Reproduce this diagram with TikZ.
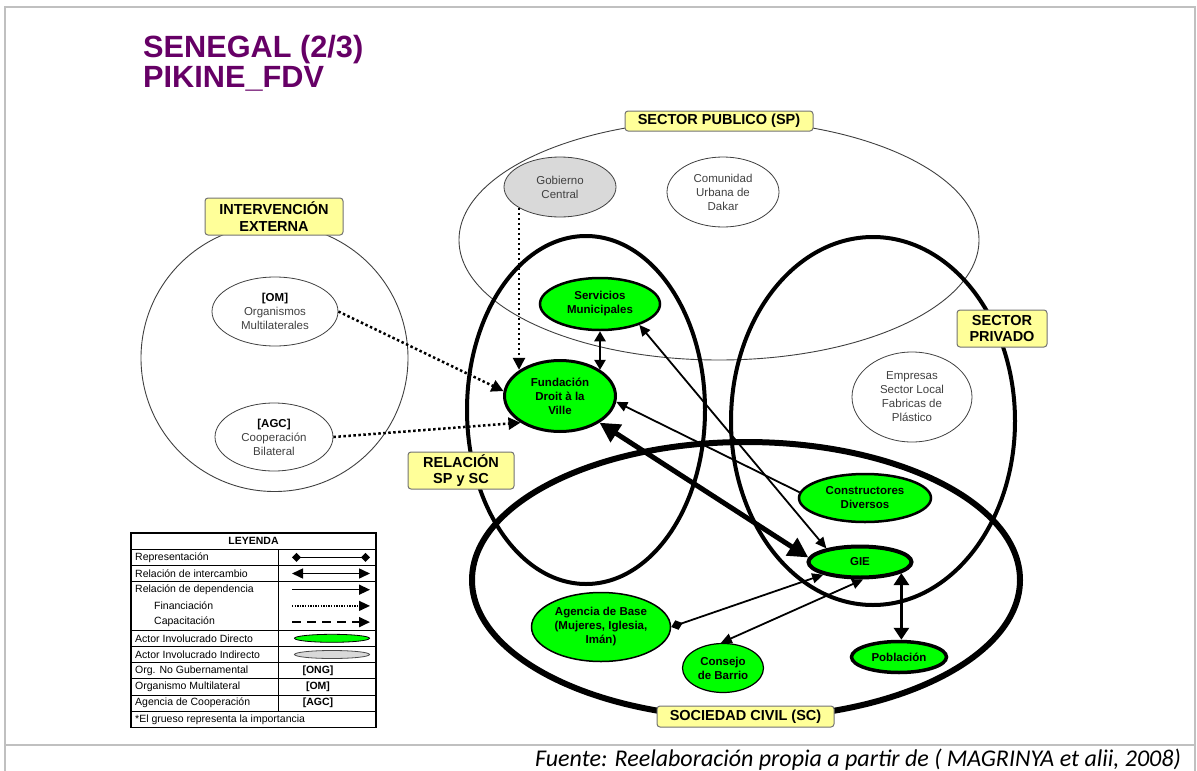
\documentclass[tikz,border=0pt]{standalone}
\usepackage{fontspec}
\setmainfont{Liberation Sans}
\newfontfamily\footfont{Carlito}
\usetikzlibrary{arrows.meta,shapes.geometric}
\pgfdeclarelayer{bg}
\pgfsetlayers{bg,main}
\definecolor{vgreen}{HTML}{00FF00}
\definecolor{lgray}{HTML}{D9D9D9}
\definecolor{ybox}{HTML}{FFFF99}
\definecolor{ttl}{HTML}{660066}
\definecolor{framegray}{HTML}{C0C0C0}
\definecolor{txtgray}{HTML}{404040}
\newcommand\fsz[2]{\fontsize{#1}{#2}\selectfont}
\begin{document}
\begin{tikzpicture}[x=1pt,y=-1pt,
 actor/.style={ellipse, draw=black, fill=vgreen, inner sep=0pt, align=center, font=\fsz{11.5}{14}\bfseries},
 indirect/.style={ellipse, draw=txtgray, line width=0.8pt, inner sep=0pt, align=center, text=txtgray, font=\fsz{11.5}{14}},
 zone/.style={rounded corners=3pt, draw=black!55, line width=1pt, fill=ybox, inner sep=0pt, align=center, font=\fsz{14.5}{16.5}\bfseries},
 fin/.style={line width=2.5pt, dash pattern=on 2.5pt off 2.5pt, -{Triangle[length=12pt,width=12pt]}},
 xch/.style={line width=2.5pt, {Triangle[length=10pt,width=11pt]}-{Triangle[length=10pt,width=11pt]}},
 thinx/.style={line width=1.8pt, {Triangle[length=11pt,width=10pt]}-{Triangle[length=11pt,width=10pt]}},
 dep/.style={line width=1.8pt, -{Triangle[length=11pt,width=10pt]}},
 bigx/.style={line width=5pt, {Triangle[length=20pt,width=20pt]}-{Triangle[length=20pt,width=20pt]}},
 medx/.style={line width=3.5pt, {Triangle[length=12pt,width=15pt]}-{Triangle[length=12pt,width=15pt]}},
 rep/.style={line width=1.8pt, {Diamond[length=12pt,width=10pt]}-{Triangle[length=11pt,width=10pt]}},
 leg/.style={inner sep=0pt, font=\fsz{10.5}{12}},
 legb/.style={inner sep=0pt, font=\fsz{10.5}{12}\bfseries}
]
\useasboundingbox (0,0) rectangle (1197,771);
% frame
\draw[framegray, line width=2pt] (5,771) -- (5,7) -- (1195,7) -- (1195,771);
\draw[framegray, line width=2pt] (5,745) -- (1195,745);
% title
\node[anchor=base west, inner sep=0pt, text=ttl, font=\fsz{30.7}{30}\bfseries] (t1) at (143,57) {SENEGAL (2/3)};
\node[anchor=base west, inner sep=0pt, text=ttl, font=\fsz{30.7}{30}\bfseries] (t2) at (143,87) {PIKINE\_FDV};
% regions
\begin{pgfonlayer}{bg}
\draw[line width=0.9pt, draw=txtgray] (719,240) ellipse [x radius=260, y radius=120];
\draw[line width=0.9pt, draw=txtgray] (274.5,358) circle [radius=133.5];
\draw[line width=4pt] (586,410) ellipse [x radius=119, y radius=174];
\draw[line width=4pt] (873,421) ellipse [x radius=142, y radius=184];
\draw[line width=6pt] (746,580) ellipse [x radius=274, y radius=138];
\end{pgfonlayer}
% indirect actors
\node[indirect, fill=lgray, minimum width=112pt, minimum height=60pt] (gob) at (560,187) {Gobierno\\Central};
\node[indirect, minimum width=112pt, minimum height=70pt] (cud) at (723,192) {Comunidad\\Urbana de\\Dakar};
\node[indirect, minimum width=126pt, minimum height=69pt] (om) at (275,311.5) {\textcolor{black}{\textbf{[OM]}}\\Organismos\\Multilaterales};
\node[indirect, minimum width=118pt, minimum height=68pt] (agc) at (274,437) {\textcolor{black}{\textbf{[AGC]}}\\Cooperación\\Bilateral};
\node[indirect, minimum width=120pt, minimum height=90pt] (emp) at (912,397) {Empresas\\Sector Local\\Fabricas de\\Plástico};
% direct actors
\node[actor, minimum width=120pt, minimum height=52pt, line width=2.5pt] (serv) at (600,304) {Servicios\\Municipales};
\node[actor, minimum width=111pt, minimum height=71pt, line width=3pt] (fdv) at (560,396) {Fundación\\Droit à la\\Ville};
\node[actor, minimum width=132pt, minimum height=48pt, line width=2.5pt] (cons) at (865,498) {Constructores\\Diversos};
\node[actor, minimum width=103pt, minimum height=31pt, line width=4pt] (gie) at (860,562) {GIE};
\node[actor, minimum width=139pt, minimum height=69pt, line width=1.5pt] (agb) at (601,627) {Agencia de Base\\(Mujeres, Iglesia,\\Imán)};
\node[actor, minimum width=81pt, minimum height=49pt, line width=1.2pt] (cdb) at (723,668) {Consejo\\de Barrio};
\node[actor, minimum width=95pt, minimum height=31pt, line width=3.5pt] (pob) at (899,657) {Población};
% zone labels
\node[zone, minimum width=188pt, minimum height=20pt] (zsp) at (719,121) {SECTOR PUBLICO (SP)};
\node[zone, minimum width=138pt, minimum height=37pt] (zie) at (274,216.5) {INTERVENCIÓN\\EXTERNA};
\node[zone, minimum width=90pt, minimum height=37pt] (zpr) at (1002,328.5) {SECTOR\\PRIVADO};
\node[zone, minimum width=106pt, minimum height=37pt] (zrel) at (461,470.5) {RELACIÓN\\SP y SC};
\node[zone, minimum width=177pt, minimum height=21pt] (zsc) at (745.5,716.5) {SOCIEDAD CIVIL (SC)};
% connectors
\draw[fin] (gob.207.7) -- (gob.207.7 |- fdv.147);
\draw[fin] (om.0) -- (fdv.175);
\draw[fin] (agc.0) -- (fdv.214);
\draw[xch] (serv.south) -- (serv.south |- fdv.33);
\draw[thinx] (serv.-28) -- (gie.158);
\draw[dep] (cons.175) -- (fdv.-6);
\draw[bigx] (fdv.-34) -- (gie.175);
\draw[rep] (agb.0) -- (gie.199);
\draw[thinx] (gie.-80) -- (cdb.95);
\draw[medx] (gie.-15.6) -- (gie.-15.6 |- pob.north);
% legend
\draw[line width=1.5pt] (131,533) rectangle (376,727.4);
\foreach \k in {1,2,3,6,7,8,9,10,11} {
  \draw[line width=1pt] (131,533+16.2*\k) -- (376,533+16.2*\k);
}
\draw[line width=1pt] (278,549.2) -- (278,711.2);
\node[legb] (lh) at (253.5,541.1) {LEYENDA};
\node[leg, anchor=west] (l1) at (135,557.3) {Representación};
\node[leg, anchor=west] (l2) at (135,573.5) {Relación de intercambio};
\node[leg, anchor=west] (l3) at (135,589.7) {Relación de dependencia};
\node[leg, anchor=west] (l4) at (154,605.9) {Financiación};
\node[leg, anchor=west] (l5) at (154,622.1) {Capacitación};
\node[leg, anchor=west] (l6) at (135,638.3) {Actor Involucrado Directo};
\node[leg, anchor=west] (l7) at (135,654.5) {Actor Involucrado Indirecto};
\node[leg, anchor=west] (l8) at (135,670.7) {Org. No Gubernamental};
\node[leg, anchor=west] (l9) at (135,686.9) {Organismo Multilateral};
\node[leg, anchor=west] (l10) at (135,703.1) {Agencia de Cooperación};
\node[leg, anchor=west] (l11) at (135,719.3) {*El grueso representa la importancia};
\coordinate (s1a) at (292,557.3); \coordinate (s1b) at (370,557.3);
\coordinate (s2a) at (292,573.5); \coordinate (s2b) at (370,573.5);
\coordinate (s3a) at (292,589.7); \coordinate (s3b) at (370,589.7);
\coordinate (s4a) at (292,605.9); \coordinate (s4b) at (370,605.9);
\coordinate (s5a) at (292,622.1); \coordinate (s5b) at (370,622.1);
\draw[line width=1.2pt, {Diamond[length=9pt,width=9pt]}-{Diamond[length=9pt,width=9pt]}] (s1a) -- (s1b);
\draw[line width=1.5pt, {Triangle[length=11pt,width=10pt]}-{Triangle[length=11pt,width=10pt]}] (s2a) -- (s2b);
\draw[line width=1.5pt, -{Triangle[length=11pt,width=10pt]}] (s3a) -- (s3b);
\draw[line width=1.3pt, dash pattern=on 1.3pt off 1.3pt, -{Triangle[length=11pt,width=10pt]}] (s4a) -- (s4b);
\draw[line width=1.8pt, dash pattern=on 9pt off 6pt, -{Triangle[length=11pt,width=10pt]}] (s5a) -- (s5b);
\node[ellipse, draw=black, line width=0.8pt, fill=vgreen, inner sep=0pt, minimum width=75pt, minimum height=8pt] (ld) at (332,638.3) {};
\node[ellipse, draw=black!70, line width=0.8pt, fill=lgray, inner sep=0pt, minimum width=75pt, minimum height=8pt] (li) at (332,654.5) {};
\node[legb] (lo1) at (318,670.7) {[ONG]};
\node[legb] (lo2) at (318,686.9) {[OM]};
\node[legb] (lo3) at (318,703.1) {[AGC]};
% footer
\node[anchor=base east, inner sep=0pt, font=\footfont\itshape\fsz{24}{24}] (src) at (1181,766) {Fuente: Reelaboración propia a partir de ( MAGRINYA et alii, 2008)};
\end{tikzpicture}
\end{document}
